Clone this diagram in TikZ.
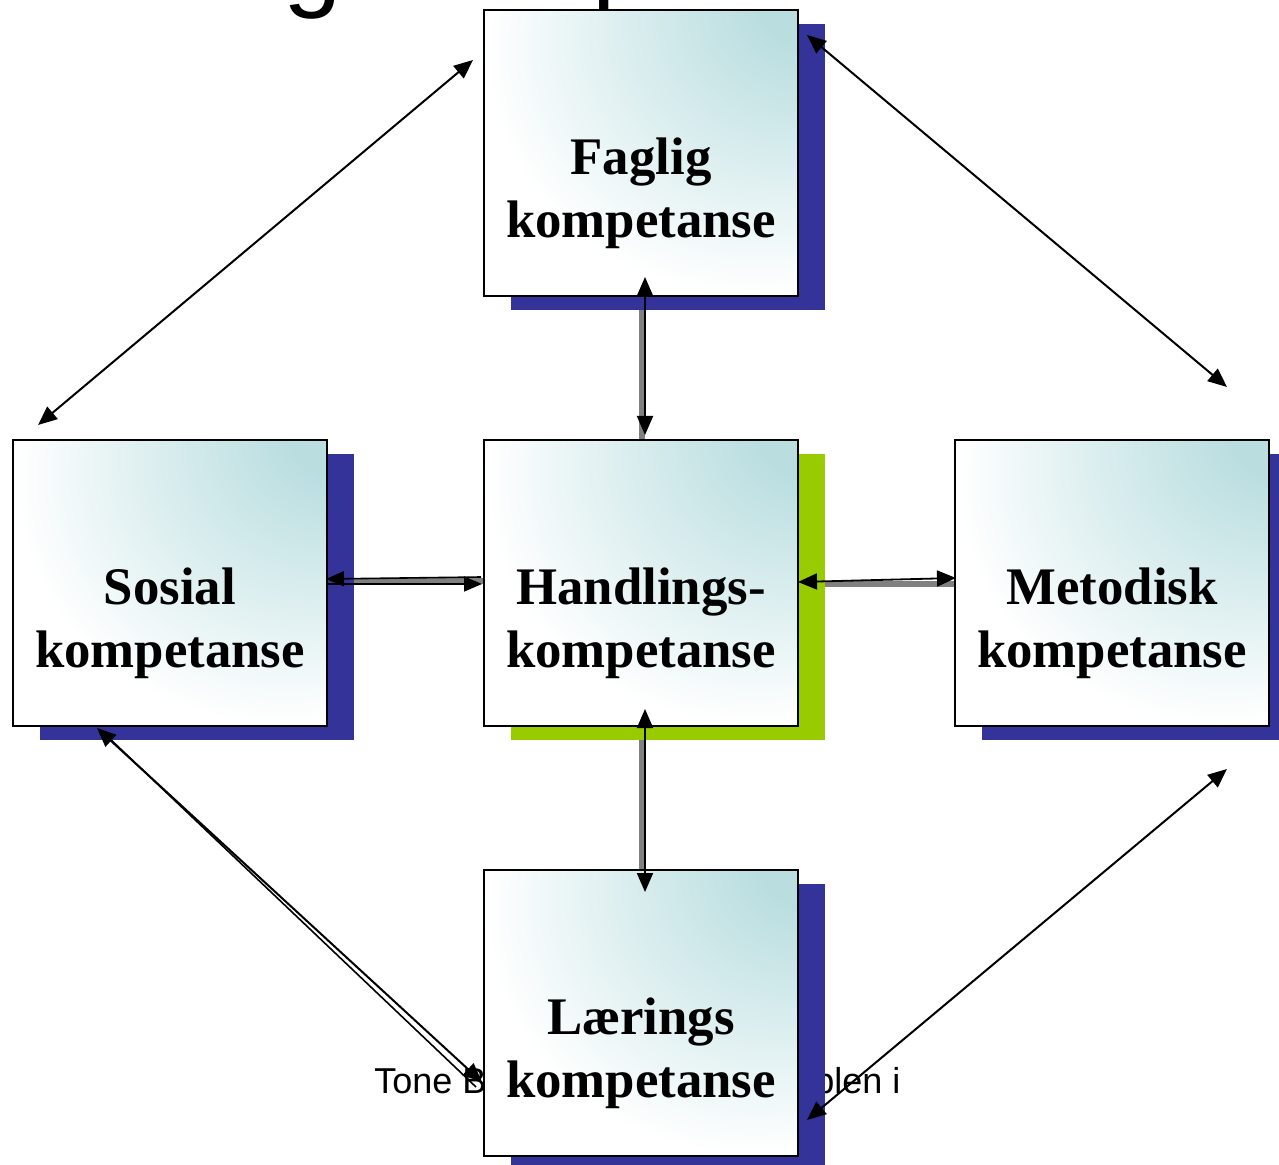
\documentclass[tikz,border=0pt]{standalone}
\usepackage{fontspec}
\setmainfont{Liberation Serif}
\newfontfamily\arialfont{Liberation Sans}
\usetikzlibrary{arrows.meta,shadows}
\definecolor{boxteal}{RGB}{186,222,224}
\definecolor{shblue}{RGB}{51,51,153}
\definecolor{shgreen}{RGB}{153,204,0}
\definecolor{bargray}{RGB}{128,128,128}
\pgfdeclareradialshading{cornerglow}{\pgfpoint{30bp}{30bp}}{color(0bp)=(boxteal); color(9bp)=(boxteal); color(42bp)=(white); color(100bp)=(white)}
\pgfdeclarelayer{bg}
\pgfsetlayers{bg,main}
\tikzset{
  kbox/.style={rectangle, draw=black, line width=1pt, minimum width=157pt, minimum height=143pt, inner sep=0pt, shade, shading=cornerglow},
  blueshadow/.style={general shadow={fill=shblue, shadow xshift=13.5pt, shadow yshift=-7pt}},
  greenshadow/.style={general shadow={fill=shgreen, shadow xshift=13.5pt, shadow yshift=-7pt}},
  ktext/.style={font=\bfseries\fontsize{26.4}{31.5}\selectfont, align=center, inner sep=0pt},
  arialtext/.style={font=\arialfont\fontsize{18}{21}\selectfont, anchor=base west, inner sep=0pt},
  titletext/.style={font=\arialfont\fontsize{52.5}{60}\selectfont, anchor=base west, inner sep=0pt},
  graybar/.style={draw=bargray, line width=3pt},
  biarrow/.style={draw=black, line width=1pt, {Triangle[length=9.5pt,width=8pt]}-{Triangle[length=9.5pt,width=8pt]}},
  thinarrow/.style={draw=black, line width=0.8pt, -{Triangle[length=9pt,width=7.5pt]}},
  thinline/.style={draw=black, line width=0.8pt}
}
\begin{document}
\begin{tikzpicture}[x=0.5pt,y=-0.5pt]
\useasboundingbox (0,0) rectangle (1279,1165);
% partly hidden title and footer
\node[titletext] (title) at (-73,-2) {Handlingskompetanse};
\node[arialtext] (foot1) at (374,1093) {Tone B};
\node[arialtext] (foot2) at (814,1093) {plen i};
% boxes
\node[kbox, blueshadow] (F) at (641,153) {};
\node[kbox, blueshadow] (S) at (170,583) {};
\node[kbox, greenshadow] (H) at (641,583) {};
\node[kbox, blueshadow] (M) at (1112,583) {};
\node[kbox, blueshadow] (L) at (641,1013) {};
\node[ktext] (Ft) at ([yshift=-20pt]F.center) {Faglig\\kompetanse};
\node[ktext] (St) at ([yshift=-20pt]S.center) {Sosial\\kompetanse};
\node[ktext] (Ht) at ([yshift=-20pt]H.center) {Handlings-\\kompetanse};
\node[ktext] (Mt) at ([yshift=-20pt]M.center) {Metodisk\\kompetanse};
\node[ktext] (Lt) at ([yshift=-20pt]L.center) {Lærings\\kompetanse};
% gray bars behind
\begin{pgfonlayer}{bg}
\draw[graybar] ([xshift=0.25pt]F.south) -- ([xshift=0.25pt]H.north);
\draw[graybar] ([xshift=0.25pt]H.south) -- ([xshift=0.25pt]L.north);
\draw[graybar] ([yshift=1pt]S.east) -- ([yshift=1pt]H.west);
\draw[graybar] ([yshift=-0.5pt]H.east) -- ([yshift=-0.5pt]M.west);
\end{pgfonlayer}
% black connectors
\draw[biarrow] ([xshift=2pt,yshift=10pt]F.south) -- ([xshift=2pt,yshift=2pt]H.north);
\draw[biarrow] ([xshift=2pt,yshift=9pt]H.south) -- ([xshift=2pt,yshift=-11.5pt]L.north);
\draw[thinarrow] ([xshift=-1pt,yshift=3pt]H.west) -- ([xshift=-1pt,yshift=2pt]S.east);
\draw[thinarrow] ([yshift=-0.5pt]S.east) -- ([xshift=-0.5pt,yshift=-0.5pt]H.west);
\draw[biarrow, line width=0.9pt] ([xshift=-0.5pt,yshift=0.5pt]H.east) -- ([xshift=1pt,yshift=2.5pt]M.west);
% diagonal connectors
\coordinate (tlA) at (473,60);
\coordinate (tlB) at (38,425);
\coordinate (trA) at (807,35);
\coordinate (trB) at (1227,387);
\coordinate (brA) at (1227,769);
\coordinate (brB) at (807,1120);
\coordinate (blA) at (97,728);
\coordinate (blB) at (482,1082);
\coordinate (blC) at (108,737);
\coordinate (blD) at (476,1087);
\draw[biarrow] (tlA) -- (tlB);
\draw[biarrow] (trA) -- (trB);
\draw[biarrow] (brA) -- (brB);
\draw[biarrow] (blA) -- (blB);
\draw[thinline] (blC) -- (blD);
\end{tikzpicture}
\end{document}
